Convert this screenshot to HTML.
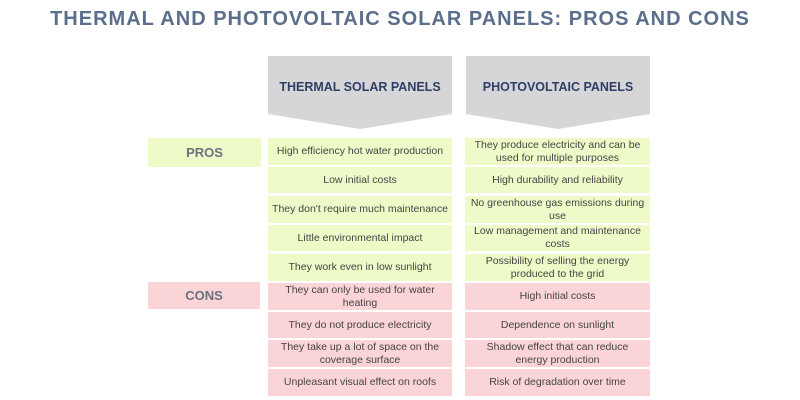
<!DOCTYPE html>
<html><head><style>
body{margin:0;width:800px;height:400px;background:#fff;position:relative;overflow:hidden;font-family:"Liberation Sans",sans-serif}
.t{position:absolute;top:8px;left:0;width:800px;text-align:center;font-weight:bold;font-size:20px;color:#5b6e8c;letter-spacing:1px}
.c{position:absolute;display:flex;align-items:center;justify-content:center;text-align:center;font-size:10.5px;color:#444;line-height:13px}
.g{background:#eefbc9}.p{background:#fbd4d7}
.lab{font-weight:bold;font-size:13px;color:#6a7280}
.h{position:absolute;top:56px}
</style></head><body>
<div class="t">THERMAL AND PHOTOVOLTAIC SOLAR PANELS: PROS AND CONS</div>
<svg class="h" style="left:268px" width="184" height="74"><polygon points="0,0 184,0 184,58 92,73 0,58" fill="#d6d6d8"/><text x="92" y="35" text-anchor="middle" font-family="Liberation Sans" font-weight="bold" font-size="12.5" fill="#2f3e66">THERMAL SOLAR PANELS</text></svg>
<svg class="h" style="left:466px" width="184" height="74"><polygon points="0,0 184,0 184,58 92,73 0,58" fill="#d6d6d8"/><text x="92" y="35" text-anchor="middle" font-family="Liberation Sans" font-weight="bold" font-size="12.5" fill="#2f3e66">PHOTOVOLTAIC PANELS</text></svg>
<div class="c g lab" style="left:148px;top:138px;width:113px;height:29px">PROS</div>
<div class="c p lab" style="left:148px;top:282px;width:112px;height:27px">CONS</div>

<div class="c g" style="left:268px;top:138px;width:184px;height:27px">High efficiency hot water production</div>
<div class="c g" style="left:268px;top:167px;width:184px;height:26px">Low initial costs</div>
<div class="c g" style="left:268px;top:196px;width:184px;height:27px">They don't require much maintenance</div>
<div class="c g" style="left:268px;top:225px;width:184px;height:26px">Little environmental impact</div>
<div class="c g" style="left:268px;top:254px;width:184px;height:27px">They work even in low sunlight</div>
<div class="c p" style="left:268px;top:283px;width:184px;height:27px">They can only be used for water<br>heating</div>
<div class="c p" style="left:268px;top:312px;width:184px;height:26px">They do not produce electricity</div>
<div class="c p" style="left:268px;top:340px;width:184px;height:27px">They take up a lot of space on the<br>coverage surface</div>
<div class="c p" style="left:268px;top:369px;width:184px;height:27px">Unpleasant visual effect on roofs</div>

<div class="c g" style="left:465px;top:138px;width:185px;height:27px">They produce electricity and can be<br>used for multiple purposes</div>
<div class="c g" style="left:465px;top:167px;width:185px;height:26px">High durability and reliability</div>
<div class="c g" style="left:465px;top:196px;width:185px;height:27px">No greenhouse gas emissions during<br>use</div>
<div class="c g" style="left:465px;top:225px;width:185px;height:26px">Low management and maintenance<br>costs</div>
<div class="c g" style="left:465px;top:254px;width:185px;height:27px">Possibility of selling the energy<br>produced to the grid</div>
<div class="c p" style="left:465px;top:283px;width:185px;height:27px">High initial costs</div>
<div class="c p" style="left:465px;top:312px;width:185px;height:26px">Dependence on sunlight</div>
<div class="c p" style="left:465px;top:340px;width:185px;height:27px">Shadow effect that can reduce<br>energy production</div>
<div class="c p" style="left:465px;top:369px;width:185px;height:27px">Risk of degradation over time</div>
</body></html>
